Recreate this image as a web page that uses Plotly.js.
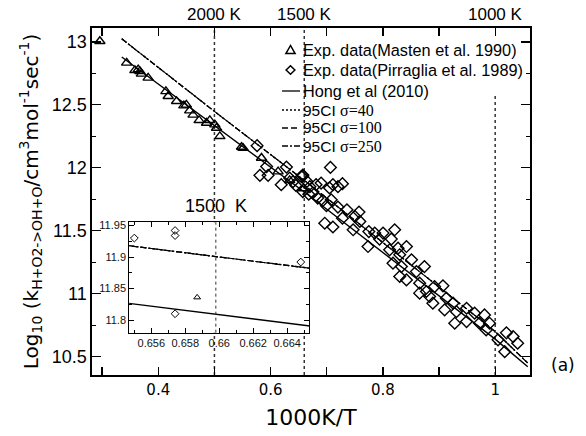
<!DOCTYPE html>
<html><head><meta charset="utf-8">
<script src="https://cdn.plot.ly/plotly-3.0.1.min.js"></script>
<style>body{margin:0;padding:0;background:#fff;}#chart{width:586px;height:436px;}</style>
</head><body><div id="chart"></div><script>
// Masten et al. 1990 (triangles)
const mastenX = [0.296, 0.3437, 0.3584, 0.3643, 0.3673, 0.370, 0.382, 0.4136, 0.4177, 0.4326, 0.4456, 0.450, 0.456, 0.462, 0.4728, 0.486, 0.4918, 0.5007, 0.5038, 0.5097, 0.5483, 0.551, 0.5838, 0.6134, 0.634, 0.6587];
const mastenY = [13.005, 12.833, 12.774, 12.78, 12.766, 12.746, 12.714, 12.607, 12.568, 12.528, 12.494, 12.50, 12.454, 12.42, 12.377, 12.356, 12.377, 12.343, 12.316, 12.25, 12.165, 12.157, 12.078, 11.97, 11.90, 11.836];
// Pirraglia et al. 1989 (diamonds)
const pirrX = [0.576, 0.581, 0.593, 0.5956, 0.619, 0.6283, 0.634, 0.640, 0.645, 0.655, 0.6574, 0.6574, 0.6574, 0.6648, 0.668, 0.670, 0.675, 0.681, 0.684, 0.690, 0.693, 0.7066, 0.711, 0.720, 0.728, 0.705, 0.708, 0.6995, 0.720, 0.6965, 0.711, 0.736, 0.728, 0.7575, 0.750, 0.759, 0.747, 0.775, 0.7855, 0.8003, 0.821, 0.794, 0.7735, 0.815, 0.812, 0.827, 0.842, 0.830, 0.851, 0.818, 0.833, 0.874, 0.8597, 0.830, 0.842, 0.8655, 0.892, 0.907, 0.8655, 0.8833, 0.8775, 0.889, 0.913, 0.925, 0.910, 0.931, 0.949, 0.928, 0.949, 0.9634, 0.981, 0.972, 0.990, 0.984, 1.005, 1.02, 1.032, 1.04, 1.017];
const pirrY = [12.176, 11.94, 12.01, 11.94, 11.866, 12.006, 11.919, 11.89, 11.86, 11.93, 11.942, 11.934, 11.81, 11.892, 11.79, 11.85, 11.80, 11.866, 11.76, 11.879, 11.74, 12.003, 11.866, 11.85, 11.874, 11.84, 11.746, 11.699, 11.688, 11.56, 11.53, 11.667, 11.60, 11.649, 11.614, 11.574, 11.508, 11.494, 11.482, 11.482, 11.508, 11.434, 11.375, 11.434, 11.349, 11.362, 11.375, 11.31, 11.27, 11.243, 11.216, 11.216, 11.176, 11.137, 11.11, 11.084, 11.057, 11.063, 11.005, 10.978, 11.018, 10.925, 10.965, 10.925, 10.872, 10.858, 10.885, 10.766, 10.779, 10.846, 10.832, 10.766, 10.766, 10.713, 10.634, 10.69, 10.66, 10.607, 10.54];
// Hong et al (2010)
const hongX = [0.335, 0.51, 0.6548, 0.6655, 1.0, 1.058];
const hongY = [12.88, 12.30, 11.826, 11.790, 10.64, 10.42];
// 95% confidence bounds
const ciX = [0.335, 0.5, 0.6548, 0.6655, 1.0, 1.058];
const ci40Y = [13.024, 12.448, 11.9175, 11.8816, 10.70, 10.45];
const ci100Y = [13.024, 12.448, 11.9175, 11.8816, 10.70, 10.45];
const ci250Y = [13.024, 12.448, 11.9175, 11.8816, 10.70, 10.45];
// temperature markers
const tempX = [0.5, 0.66, 1.0];
const tempTop = [13.11, 13.11, 12.58];
const tempLabels = ['2000 K', '1500 K', '1000 K'];
const insetTempX = 0.6598;
const insetTempLabel = '1500&nbsp; K';
// legend labels
const serifSpan = (s) => '<span style="font-family:Liberation Serif, Times New Roman, serif;font-size:16px">' + s + '</span>';
const legendLabels = ['Exp. data(Masten et al. 1990)', 'Exp. data(Pirraglia et al. 1989)', 'Hong et al (2010)',
  '95CI ' + serifSpan('σ=40'), '95CI ' + serifSpan('σ=100'), '95CI ' + serifSpan('σ=250')];
const legendSizes = [16.3, 16.3, 16.3, 15.5, 15.5, 15.5];
// axis ticks
const xTickVals = [0.4, 0.6, 0.8, 1.0];
const xTickText = ['0.4', '0.6', '0.8', '1'];
const yTickVals = [10.5, 11, 11.5, 12, 12.5, 13];
const yTickText = ['10.5', '11', '11.5', '12', '12.5', '13'];
const insXTickVals = [0.656, 0.658, 0.66, 0.662, 0.664];
const insXTickText = ['0.656', '0.658', '0.66', '0.662', '0.664'];
const insYTickVals = [11.8, 11.85, 11.9, 11.95];
const insYTickText = ['11.8', '11.85', '11.9', '11.95'];

const K = '#000';
const W = 586, H = 436, ML = 92, MR = 56, MT = 28, MB = 61;
const PW = W - ML - MR, PH = H - MT - MB;
const px = (x) => (x - ML) / PW;
const py = (y) => 1 - (y - MT) / PH;

const dashes = {dot: '2px,2px', dash: '6px,3px', dashdot: '6px,2px,2px,2px'};
const traces = [];
function addSet(ax, ay, msize, mlw) {
  traces.push({x: mastenX, y: mastenY, xaxis: ax, yaxis: ay, type: 'scatter', mode: 'markers', name: legendLabels[0], showlegend: false,
    marker: {symbol: 'triangle-up-open', size: msize, color: K, line: {width: mlw, color: K}}});
  traces.push({x: pirrX, y: pirrY, xaxis: ax, yaxis: ay, type: 'scatter', mode: 'markers', name: legendLabels[1], showlegend: false,
    marker: {symbol: 'diamond-open', size: msize, color: K, line: {width: mlw, color: K}}});
  traces.push({x: hongX, y: hongY, xaxis: ax, yaxis: ay, type: 'scatter', mode: 'lines', name: legendLabels[2], showlegend: false,
    line: {color: K, width: 1.4}});
  traces.push({x: ciX, y: ci40Y, xaxis: ax, yaxis: ay, type: 'scatter', mode: 'lines', name: legendLabels[3], showlegend: false,
    line: {color: K, width: 1.2, dash: dashes.dot}});
  traces.push({x: ciX, y: ci100Y, xaxis: ax, yaxis: ay, type: 'scatter', mode: 'lines', name: legendLabels[4], showlegend: false,
    line: {color: K, width: 1.2, dash: dashes.dash}});
  traces.push({x: ciX, y: ci250Y, xaxis: ax, yaxis: ay, type: 'scatter', mode: 'lines', name: legendLabels[5], showlegend: false,
    line: {color: K, width: 1.2, dash: dashes.dashdot}});
}
addSet('x', 'y', 9, 1.4);
addSet('x2', 'y2', 6, 1);

const shapes = [];
const annotations = [];
tempX.forEach((t, i) => {
  shapes.push({type: 'line', xref: 'x', yref: 'y', x0: t, x1: t, y0: 10.355, y1: tempTop[i], layer: 'below',
    line: {color: '#333', width: 1.5, dash: 'dot'}});
  annotations.push({xref: 'x', yref: 'paper', x: t, y: 1.04, yanchor: 'middle', xanchor: 'center', showarrow: false,
    text: tempLabels[i], font: {family: 'Liberation Sans, Arial', size: 17, color: K}});
});
shapes.push({type: 'line', xref: 'x2', yref: 'y2 domain', x0: insetTempX, x1: insetTempX, y0: 0, y1: 1,
  line: {color: '#333', width: 1, dash: 'dot'}});
annotations.push({xref: 'x2', yref: 'y2 domain', x: insetTempX, y: 1.0, yshift: 16, yanchor: 'middle', xanchor: 'center', showarrow: false,
  text: insetTempLabel, font: {family: 'Liberation Sans, Arial', size: 18, color: K}});

// hand-made legend (compact row spacing as in the reference)
const rowY = [50, 70, 91, 110, 128, 146];
const symX = 290.5, lx0 = 282, lx1 = 300, textX = 302;
legendLabels.forEach((lab, i) => {
  annotations.push({xref: 'paper', yref: 'paper', x: px(textX), y: py(rowY[i]), xanchor: 'left', yanchor: 'middle', showarrow: false,
    borderpad: 0, text: lab, font: {family: 'Liberation Sans, Arial', size: legendSizes[i], color: K}});
});
shapes.push({type: 'path', xref: 'paper', yref: 'paper',
  path: 'M' + px(symX) + ',' + py(rowY[0] - 4.5) + ' L' + px(symX - 4.6) + ',' + py(rowY[0] + 3.6) + ' L' + px(symX + 4.6) + ',' + py(rowY[0] + 3.6) + ' Z',
  line: {color: K, width: 1.5}});
shapes.push({type: 'path', xref: 'paper', yref: 'paper',
  path: 'M' + px(symX) + ',' + py(rowY[1] - 4.3) + ' L' + px(symX + 4.4) + ',' + py(rowY[1]) + ' L' + px(symX) + ',' + py(rowY[1] + 4.3) + ' L' + px(symX - 4.4) + ',' + py(rowY[1]) + ' Z',
  line: {color: K, width: 1.5}});
[null, dashes.dot, dashes.dash, dashes.dashdot].forEach((d, k) => {
  const ln = {color: K, width: 1.3};
  if (d) ln.dash = d;
  shapes.push({type: 'line', xref: 'paper', yref: 'paper', x0: px(lx0), x1: px(lx1), y0: py(rowY[k + 2]), y1: py(rowY[k + 2]), line: ln});
});

annotations.push({xref: 'paper', yref: 'paper', x: -0.14, y: 0.5, xanchor: 'center', yanchor: 'middle', textangle: -90, showarrow: false,
  text: 'Log<sub>10</sub> (k<sub>H+O2-&gt;OH+O</sub>/cm<sup>3</sup>mol<sup>-1</sup>sec<sup>-1</sup>)',
  font: {family: 'DejaVu Sans', size: 20, color: K}});
annotations.push({xref: 'paper', yref: 'paper', x: px(549), y: py(365), xanchor: 'left', yanchor: 'middle', showarrow: false,
  text: '(a)', font: {family: 'DejaVu Sans', size: 17, color: K}});

const layout = {
  width: W, height: H,
  margin: {l: ML, r: MR, t: MT, b: MB},
  paper_bgcolor: '#fff', plot_bgcolor: '#fff',
  showlegend: false,
  xaxis: {range: [0.282, 1.062], domain: [0, 1], anchor: 'y', showgrid: false, zeroline: false,
    showline: true, linecolor: K, linewidth: 1.6, mirror: 'ticks', ticks: 'inside', ticklen: 8, tickwidth: 1.3, tickcolor: K,
    tickmode: 'array', tickvals: xTickVals, ticktext: xTickText,
    minor: {dtick: 0.1, tick0: 0.3, ticks: 'inside', ticklen: 8, tickwidth: 1.3, tickcolor: K},
    tickfont: {family: 'DejaVu Sans', size: 15, color: K},
    title: {text: '1000K/T', font: {family: 'DejaVu Sans', size: 22, color: K}, standoff: 12}},
  yaxis: {range: [10.355, 13.11], domain: [0, 1], anchor: 'x', showgrid: false, zeroline: false,
    showline: true, linecolor: K, linewidth: 1.6, mirror: 'ticks', ticks: 'inside', ticklen: 9, tickwidth: 1.3, tickcolor: K,
    tickmode: 'array', tickvals: yTickVals, ticktext: yTickText,
    minor: {dtick: 0.25, tick0: 10.25, ticks: 'inside', ticklen: 4, tickwidth: 1.3, tickcolor: K},
    tickfont: {family: 'Liberation Sans, Arial', size: 18, color: K}},
  xaxis2: {range: [0.6547, 0.6653], domain: [0.085, 0.496], anchor: 'y2', showgrid: false, zeroline: false,
    showline: true, linecolor: K, linewidth: 1, mirror: 'ticks', ticks: 'inside', ticklen: 5, tickwidth: 1, tickcolor: K,
    tickmode: 'array', tickvals: insXTickVals, ticktext: insXTickText,
    minor: {dtick: 0.001, tick0: 0.655, ticks: 'inside', ticklen: 3, tickwidth: 1, tickcolor: K},
    tickfont: {family: 'Liberation Sans, Arial', size: 11, color: '#111'}},
  yaxis2: {range: [11.78, 11.955], domain: [0.122, 0.440], anchor: 'x2', showgrid: false, zeroline: false,
    showline: true, linecolor: K, linewidth: 1, mirror: 'ticks', ticks: 'inside', ticklen: 5, tickwidth: 1, tickcolor: K,
    tickmode: 'array', tickvals: insYTickVals, ticktext: insYTickText,
    minor: {dtick: 0.025, tick0: 11.775, ticks: 'inside', ticklen: 3, tickwidth: 1, tickcolor: K},
    tickfont: {family: 'Liberation Sans, Arial', size: 11, color: '#111'}},
  shapes: shapes,
  annotations: annotations
};
Plotly.newPlot('chart', traces, layout, {staticPlot: true, displayModeBar: false});
</script></body></html>
